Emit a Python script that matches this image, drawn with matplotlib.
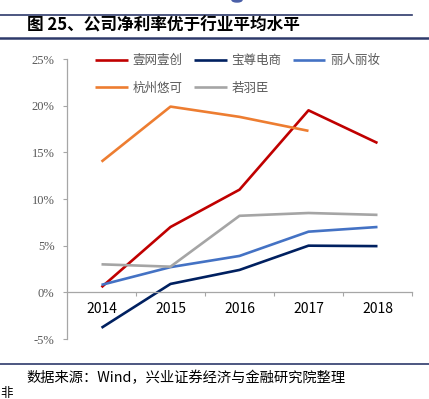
import matplotlib
matplotlib.use("Agg")
import matplotlib.pyplot as plt
from matplotlib.lines import Line2D
from matplotlib.patches import Ellipse

plt.rcParams['font.family'] = ['Noto Sans CJK SC', 'DejaVu Sans']

years = ["2014", "2015", "2016", "2017", "2018"]
series_names = ["壹网壹创", "宝尊电商", "丽人丽妆", "杭州悠可", "若羽臣"]
yiwang = [0.55, 7.0, 11.0, 19.5, 16.0]
baozun = [-3.8, 0.9, 2.4, 5.0, 4.95]
liren = [0.8, 2.7, 3.9, 6.5, 7.0]
hangzhou = [14.0, 19.9, 18.8, 17.3]
ruoyu = [3.0, 2.75, 8.2, 8.5, 8.3]
y_ticks = [-5, 0, 5, 10, 15, 20, 25]
title = "图 25、公司净利率优于行业平均水平"
source = "数据来源：Wind，兴业证券经济与金融研究院整理"

colors = ["#C00000", "#002060", "#4472C4", "#ED7D31", "#A5A5A5"]
W, H = 429, 399
fig = plt.figure(figsize=(W / 100, H / 100), dpi=100)

def fx(px):
    return px / W

def fy(py):
    return 1 - py / H

ax = fig.add_axes([fx(67), fy(339), fx(412) - fx(67), fy(59) - fy(339)])
x = list(range(len(years)))
all_series = [yiwang, baozun, liren, hangzhou, ruoyu]
handles = []
for name, vals, c in zip(series_names, all_series, colors):
    h, = ax.plot(x[:len(vals)], vals, color=c, lw=1.9, label=name, solid_capstyle='butt')
    handles.append(h)

ax.set_xlim(-0.5, len(years) - 0.5)
ax.set_ylim(-5, 25)
ax.set_yticks(y_ticks)
ax.set_yticklabels([f"{v}%" for v in y_ticks], fontfamily='Liberation Serif',
                   fontsize=9, color='#595959')
ax.set_xticks(x)
ax.set_xticklabels(years, fontfamily='Liberation Serif', fontsize=9, color='#595959')
ax.set_xticks([i + 0.5 for i in x], minor=True)
ax.tick_params(axis='x', which='major', length=0, pad=7)
ax.tick_params(axis='x', which='minor', length=3, direction='out', color='#A6A6A6', width=0.8)
ax.tick_params(axis='y', length=3, direction='out', color='#A6A6A6', width=0.8, pad=6)
for s in ['top', 'right']:
    ax.spines[s].set_visible(False)
ax.spines['left'].set_color('#A6A6A6')
ax.spines['left'].set_linewidth(0.9)
ax.spines['bottom'].set_position(('data', 0))
ax.spines['bottom'].set_color('#A6A6A6')
ax.spines['bottom'].set_linewidth(0.9)
ax.patch.set_alpha(0)

order = [0, 3, 1, 4, 2]
leg = ax.legend([handles[i] for i in order], [series_names[i] for i in order],
                loc='upper left', bbox_to_anchor=(fx(96) - fx(67), 1.035),
                ncol=3, frameon=False, handlelength=2.6, handletextpad=0.4,
                columnspacing=0.9, labelspacing=1.15, fontsize=9, borderaxespad=0)
for t in leg.get_texts():
    t.set_color('#595959')

# decorations
fig.add_artist(Line2D([0, fx(412)], [fy(15), fy(15)], color='#2E3A6B', lw=1.2))
fig.add_artist(Line2D([0, 1], [fy(37.5), fy(37.5)], color='#2E3A6B', lw=1.8))
fig.add_artist(Line2D([0, 1], [fy(364), fy(364)], color='#2E3A6B', lw=1.2))
fig.add_artist(Ellipse((fx(237), fy(0)), fx(10), 4 / H, color='#4A5FA8'))
fig.text(fx(27), fy(26), title, fontsize=12, fontweight='bold', va='center', ha='left',
         color='black')
fig.text(fx(26), fy(377.5), source, fontsize=10.3, va='center', ha='left', color='black',
         family=['Noto Sans CJK SC', 'Liberation Serif'])
fig.text(fx(0), fy(393), "非", fontsize=9, va='center', ha='left', color='black')

fig.savefig("out.png", dpi=100)
